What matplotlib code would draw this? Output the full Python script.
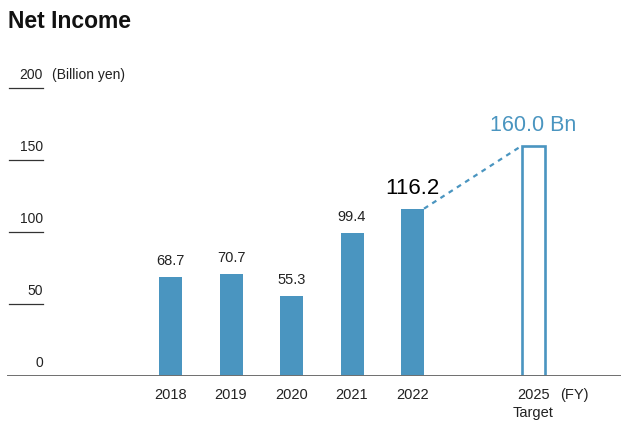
import numpy as np
import matplotlib.pyplot as plt
from matplotlib.transforms import blended_transform_factory

years = ['2018', '2019', '2020', '2021', '2022']
income = [68.7, 70.7, 55.3, 99.4, 116.2]
target_year = '2025'
target_value = 160.0
yticks = [0, 50, 100, 150, 200]

BLUE = '#4a95c0'
plt.rcParams['font.family'] = ['Liberation Sans', 'DejaVu Sans']

fig = plt.figure(figsize=(6.21, 4.27), dpi=100)
W, H = 621, 427
# axes spans the full width, y from pixel 89 (200) down to 377 (0)
ax = fig.add_axes([0, (H - 377) / H, 1, (377 - 89) / H])
x0, step = 170.5, 60.5
ax.set_xlim((0 - x0) / step, (W - x0) / step)
ax.set_ylim(0, 200)
ax.axis('off')

pos = np.arange(len(years))
tpos = len(years) + 1
bw = 23 / step

ax.bar(pos, income, width=bw, color=BLUE, zorder=2)
ax.bar([tpos], [target_value], width=bw, facecolor='white', edgecolor=BLUE,
       linewidth=1.9, zorder=2)

# dashed connector from last actual bar to target
ax.plot([pos[-1] + bw / 2, tpos - bw / 2], [income[-1], target_value],
        ls=(0, (2.2, 2.2)), color=BLUE, lw=1.6, zorder=3)

# value labels
for p, v in zip(pos[:-1], income[:-1]):
    ax.text(p, v + 7, f'{v}', ha='center', va='bottom', fontsize=10.5, color='#222222')
ax.text(pos[-1], income[-1] + 7.5, f'{income[-1]}', ha='center', va='bottom',
        fontsize=16, color='black')
ax.text(tpos, target_value + 7.5, f'{target_value:.1f} Bn', ha='center', va='bottom',
        fontsize=15.5, color=BLUE)

# base line
ax.axhline(0, color='#6f6f6f', lw=1.4, xmin=8 / W, zorder=4)

# y labels with short rules underneath
tr = blended_transform_factory(fig.transFigure, ax.transData)
for t in yticks:
    ax.text(43 / W, t + 9.5, str(t), transform=tr, ha='right', va='center',
            fontsize=10, color='#222222')
    if t > 0:
        ax.plot([9 / W, 43 / W], [t, t], transform=tr, color='#333333', lw=0.9,
                clip_on=False)
ax.text(52 / W, 200 + 9.5, '(Billion yen)', transform=tr, ha='left', va='center',
        fontsize=10, color='#222222')

# x labels
trx = blended_transform_factory(ax.transData, fig.transFigure)
for p, y in zip(pos, years):
    ax.text(p, (H - 395) / H, y, transform=trx, ha='center', va='center',
            fontsize=10.5, color='#222222')
ax.text(tpos, (H - 395) / H, target_year, transform=trx, ha='center', va='center',
        fontsize=10.5, color='#222222')
ax.text(tpos, (H - 413) / H, 'Target', transform=trx, ha='center', va='center',
        fontsize=10.5, color='#222222')
ax.text(560 / W, (H - 395) / H, '(FY)', transform=fig.transFigure, ha='left',
        va='center', fontsize=10.5, color='#222222')

fig.text(8 / W, (H - 22) / H, 'Net Income', ha='left', va='center', fontsize=16.5,
         fontweight='bold', color='#111111')

fig.savefig('out.png', dpi=100)
